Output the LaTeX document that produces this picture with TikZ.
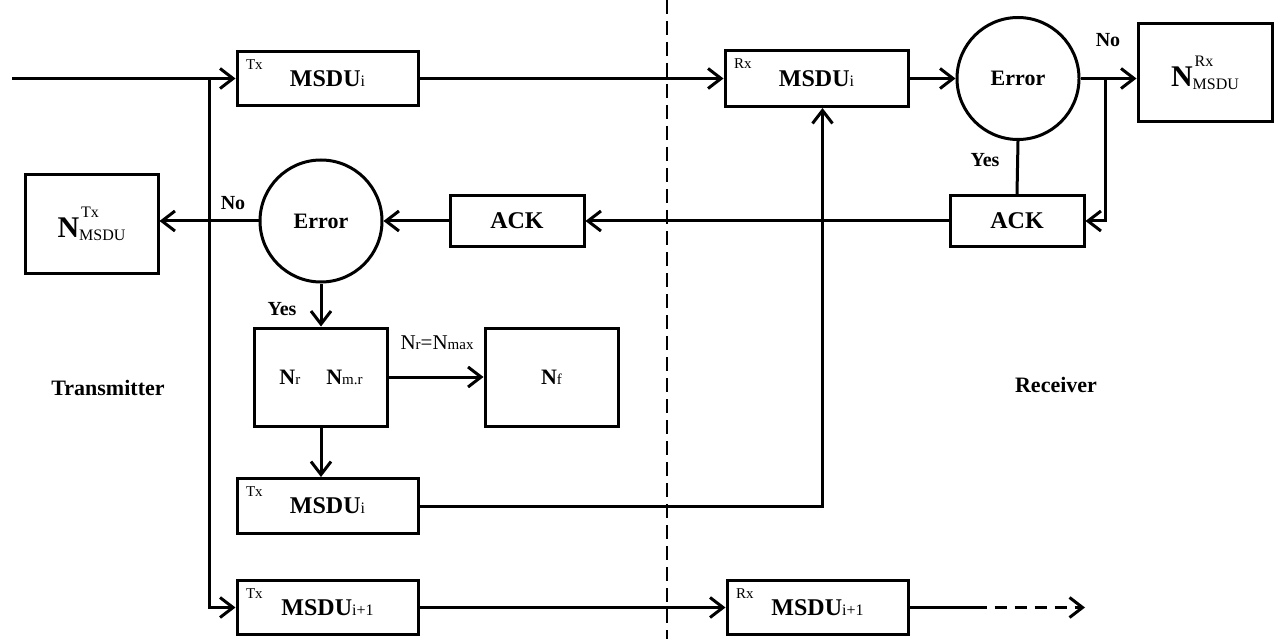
\documentclass[tikz,border=0pt]{standalone}
\usepackage{fontspec}
\setmainfont{Liberation Serif}
\usetikzlibrary{arrows.meta}
\newcommand{\sm}[1]{{\fontsize{15}{15}\selectfont\mdseries #1}}
\newcommand{\msdutext}[1]{{\fontsize{24}{24}\selectfont MSDU}{\fontsize{16}{16}\selectfont\mdseries #1}}
\newcommand{\ncount}[1]{{\fontsize{30}{30}\selectfont\bfseries N}{\fontsize{16}{16}\selectfont\mdseries
        \rlap{\raisebox{20pt}{\hspace{2pt}#1}}\raisebox{-3pt}{MSDU}}}
\begin{document}
\begin{tikzpicture}[x=1pt, y=-1pt, line width=3pt,
        >={Straight Barb[length=13pt,width=20pt]},
        font=\fontsize{22}{22}\selectfont\bfseries,
        box/.style={draw, rectangle, inner sep=0pt, minimum width=133pt, minimum height=98pt},
        frame/.style={draw, rectangle, inner sep=0pt, minimum width=181pt, minimum height=54pt},
        test/.style={draw, circle, inner sep=0pt, minimum size=122pt},
        ack/.style={draw, rectangle, inner sep=0pt, minimum width=134pt, minimum height=51pt,
                font=\fontsize{24}{24}\selectfont\bfseries},
        tag/.style={font=\fontsize{15}{15}\selectfont\mdseries, inner sep=0pt},
        corner/.style={label={[tag, anchor=north west, xshift=9pt, yshift=-8pt]north west:#1}},
        word/.style={font=\fontsize{20}{20}\selectfont\bfseries}]
    \useasboundingbox (0,0) rectangle (1274,639);
    \draw[line width=2pt, dash pattern=on 14pt off 7pt] (667,0) -- (667,639);

    \node[frame, corner=Tx] (txa) at (327.5,78.5) {\msdutext{i}};
    \node[frame, corner=Rx, minimum width=183pt, minimum height=56pt] (rxa) at (816.5,78.5) {\msdutext{i}};
    \node[test] (errrx) at (1018,78.5) {Error};
    \node[box, minimum width=134pt] (nrx) at (1205,73) {\ncount{Rx}};
    \node[ack] (ackrx) at (1017,221) {ACK};
    \node[ack] (acktx) at (517,221) {ACK};
    \node[test] (errtx) at (321,221) {Error};
    \node[box] (ntx) at (91.5,224) {\ncount{Tx}};
    \node[box] (retry) at (321,377) {N\sm{r}\hspace{26pt}N\sm{m.r}};
    \node[box] (fail) at (551.5,377) {N\sm{f}};
    \node[frame, corner=Tx, minimum height=55pt] (txb) at (327.5,506) {\msdutext{i}};
    \node[frame, corner=Tx] (txc) at (327.5,607.5) {\msdutext{i+1}};
    \node[frame, corner=Rx] (rxc) at (817.5,607.5) {\msdutext{i+1}};

    \node (tr) at (108,388) {Transmitter};
    \node (re) at (1056,385) {Receiver};
    \node[word] (norx) at (1108,40) {No};
    \node[word] (yesrx) at (985,160) {Yes};
    \node[word] (notx) at (233,203) {No};
    \node[word] (yestx) at (282,309) {Yes};
    \node[font=\fontsize{21}{21}\selectfont\mdseries] (cond) at (437,343) {N\sm{r}=N\sm{max}};

    \coordinate (in) at (12,78.5);
    \coordinate (split) at (209,78.5);
    \coordinate (brx) at (1105,78.5);
    \coordinate (out) at (1085,607.5);

    \draw[->] (in) -- (txa.west);
    \draw[->] (split) |- (txc.west);
    \draw[->] (txa.east) -- (rxa.west);
    \draw[->] (rxa.east) -- (errrx.west);
    \draw[->] (errrx.east) -- (errrx.east -| nrx.west);
    \draw[->] (brx) |- (ackrx.east);
    \draw (errrx.south) -- (ackrx.north);
    \draw[->] (ackrx.west) -- (acktx.east);
    \draw[->] (acktx.west) -- (errtx.east);
    \draw[->] (errtx.west) -- (errtx.west -| ntx.east);
    \draw[->] (errtx.south) -- (retry.north);
    \draw[->] (retry.east) -- (fail.west);
    \draw[->] (retry.south) -- (retry.south |- txb.north);
    \draw[->] (txb.east) -| ([xshift=6pt]rxa.south);
    \draw[->] (txc.east) -- (rxc.west);
    \draw (rxc.east) -- ++(65,0) coordinate (tail);
    \draw[->, dash pattern=on 12pt off 8pt] (tail) -- (out);
\end{tikzpicture}
\end{document}
